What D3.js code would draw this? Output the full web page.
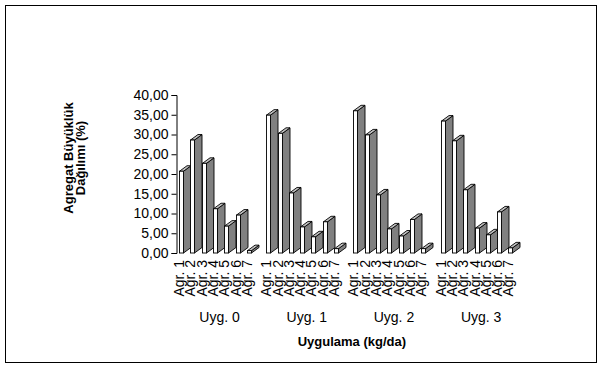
<!DOCTYPE html>
<html>
<head>
<meta charset="utf-8">
<script src="https://cdn.jsdelivr.net/npm/d3@7/dist/d3.min.js"></script>
<style>
  body { margin: 0; background: #fff; }
  svg text { font-family: "Liberation Sans", Arial, sans-serif; fill: #000; }
</style>
</head>
<body>
<div id="chart"></div>
<script>
const width = 602;
const height = 367;

const groups = ["Uyg. 0", "Uyg. 1", "Uyg. 2", "Uyg. 3"];
const aggregates = ["Agr. 1", "Agr. 2", "Agr. 3", "Agr. 4", "Agr. 5", "Agr. 6", "Agr. 7"];
const yTicks = [0, 5, 10, 15, 20, 25, 30, 35, 40];

// one array per treatment, values in aggregate order
const uyg0 = [20.7, 28.6, 22.7, 11.2, 6.8, 9.6, 0.6];
const uyg1 = [34.9, 30.3, 15.2, 6.6, 4.1, 7.9, 1.1];
const uyg2 = [36.0, 29.9, 14.7, 6.1, 4.3, 8.5, 1.1];
const uyg3 = [33.4, 28.4, 16.0, 6.3, 4.6, 10.4, 1.3];
const seriesValues = [uyg0, uyg1, uyg2, uyg3];

const rows = [];
groups.forEach((g, gi) => {
    aggregates.forEach((a, ai) => {
        rows.push({ group: g, agr: a, value: seriesValues[gi][ai] });
    });
});

const axisX = 176.5;
const frontW = 4;
const depthX = 7.5;
const depthY = 5.5;

const svg = d3.select("#chart").append("svg")
    .attr("width", width)
    .attr("height", height);

svg.append("rect")
    .attr("x", 5.5).attr("y", 5.5)
    .attr("width", 591).attr("height", 357)
    .attr("fill", "#fff")
    .attr("stroke", "#000");

const y = d3.scaleLinear()
    .domain([0, 40])
    .range([253, 95]);

const x0 = d3.scaleBand()
    .domain(groups)
    .range([axisX + 1, axisX + 1 + 4 * 87.2])
    .padding(0);

const x1 = d3.scaleBand()
    .domain(aggregates)
    .range([1.5, 1.5 + 7 * 11.3])
    .padding(0);

// y axis
const yAxis = d3.axisLeft(y)
    .tickValues(yTicks)
    .tickSize(5)
    .tickPadding(3)
    .tickFormat(d => d3.format(".2f")(d).replace(".", ","));

const yg = svg.append("g")
    .attr("transform", `translate(${axisX},0)`)
    .call(yAxis);
yg.select(".domain").attr("stroke", "#000");
yg.selectAll(".tick line").attr("stroke", "#000");
yg.selectAll(".tick text")
    .style("font-size", "14px");

// bars, drawn left to right so later ones overlap earlier sides
const bars = svg.append("g").classed("bars", true)
    .selectAll("g.bar")
    .data(rows)
    .enter().append("g")
    .classed("bar", true);

const bx = d => Math.round(x0(d.group) + x1(d.agr)) + 0.5;
const y0 = y(0);

bars.append("path")
    .attr("d", d => {
        const l = bx(d) + frontW, t = y(d.value);
        return `M${l},${t}L${l + depthX},${t - depthY}L${l + depthX},${y0 - depthY}L${l},${y0}Z`;
    })
    .attr("fill", "#808080")
    .attr("stroke", "#000")
    .attr("stroke-width", 0.9)
    .attr("stroke-linejoin", "round");

bars.append("path")
    .attr("d", d => {
        const l = bx(d), t = y(d.value);
        return `M${l},${t}L${l + depthX},${t - depthY}L${l + frontW + depthX},${t - depthY}L${l + frontW},${t}Z`;
    })
    .attr("fill", "#c0c0c0")
    .attr("stroke", "#000")
    .attr("stroke-width", 0.9)
    .attr("stroke-linejoin", "round");

bars.append("rect")
    .attr("x", d => bx(d))
    .attr("y", d => y(d.value))
    .attr("width", frontW)
    .attr("height", d => y0 - y(d.value))
    .attr("fill", "#fff")
    .attr("stroke", "#000")
    .attr("stroke-width", 0.9);

// rotated category labels
svg.append("g")
    .selectAll("text")
    .data(rows)
    .enter().append("text")
    .attr("transform", d => `translate(${bx(d)},260) rotate(-90)`)
    .attr("text-anchor", "end")
    .attr("dy", "0.35em")
    .style("font-size", "14px")
    .text(d => d.agr);

// group labels
svg.append("g")
    .selectAll("text")
    .data(groups)
    .enter().append("text")
    .attr("x", g => x0(g) + x1.range()[0] + (x1.range()[1] - x1.range()[0]) / 2 + 1)
    .attr("y", 322)
    .attr("text-anchor", "middle")
    .style("font-size", "14px")
    .text(g => g);

// axis titles
svg.append("text")
    .attr("x", (x0.range()[0] + x0.range()[1]) / 2)
    .attr("y", 346)
    .attr("text-anchor", "middle")
    .style("font-size", "13px")
    .style("font-weight", "bold")
    .text("Uygulama (kg/da)");

const yTitle = svg.append("text")
    .attr("transform", "translate(68,158) rotate(-90)")
    .attr("text-anchor", "middle")
    .style("font-size", "13px")
    .style("font-weight", "bold");
yTitle.append("tspan").attr("x", 0).attr("dy", "0.35em").text("Agregat Büyüklük");
yTitle.append("tspan").attr("x", 0).attr("dy", "12px").text("Dağılımı (%)");
</script>
</body>
</html>
